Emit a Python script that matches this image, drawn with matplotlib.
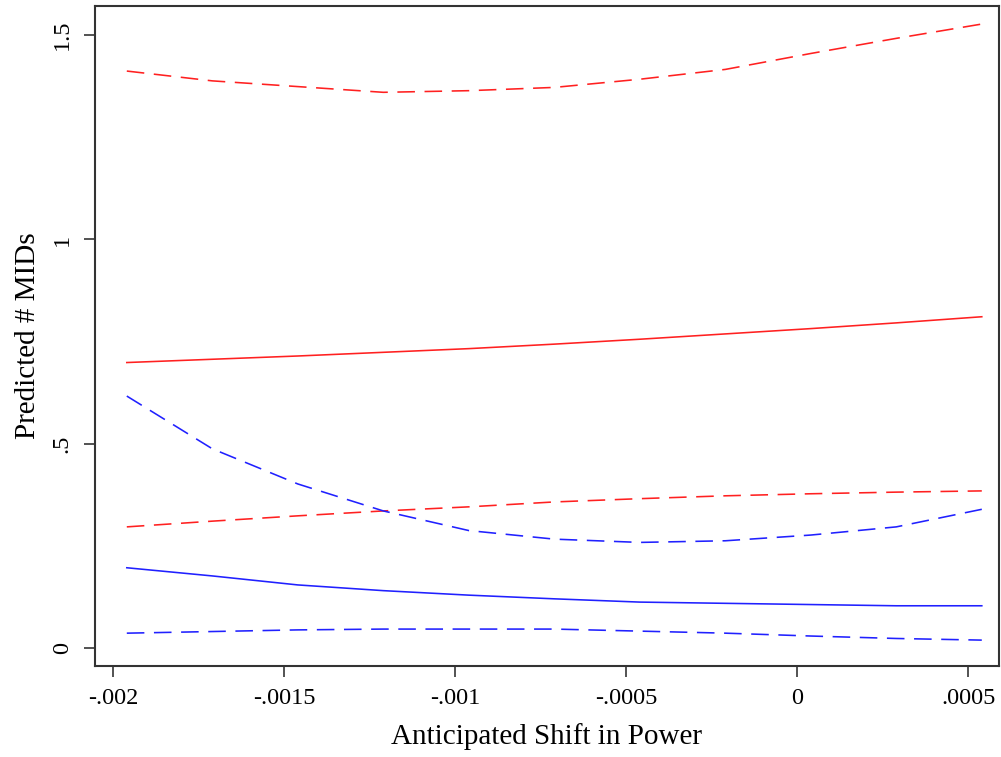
import matplotlib
matplotlib.use("Agg")
import matplotlib.pyplot as plt

# anticipated shift in power (x grid)
shift = [-0.00196, -0.00171, -0.00146, -0.00121, -0.00096, -0.00071,
         -0.00046, -0.00021, 0.00004, 0.00029, 0.00054]

# red series: prediction and confidence bounds
red_pred = [0.699, 0.707, 0.715, 0.724, 0.733, 0.744, 0.756, 0.769, 0.782, 0.796, 0.811]
red_hi = [1.412, 1.388, 1.374, 1.360, 1.364, 1.372, 1.392, 1.416, 1.455, 1.492, 1.527]
red_lo = [0.297, 0.311, 0.324, 0.336, 0.346, 0.358, 0.366, 0.373, 0.378, 0.382, 0.385]

# blue series: prediction and confidence bounds
blue_pred = [0.197, 0.177, 0.155, 0.141, 0.130, 0.121, 0.113, 0.110, 0.107, 0.104, 0.104]
blue_hi = [0.617, 0.488, 0.402, 0.336, 0.288, 0.267, 0.259, 0.263, 0.277, 0.297, 0.340]
blue_lo = [0.037, 0.041, 0.045, 0.047, 0.047, 0.047, 0.042, 0.037, 0.030, 0.024, 0.020]

xticks = [-0.002, -0.0015, -0.001, -0.0005, 0, 0.0005]
xtick_labels = ["-.002", "-.0015", "-.001", "-.0005", "0", ".0005"]
yticks = [0, 0.5, 1, 1.5]
ytick_labels = ["0", ".5", "1", "1.5"]

plt.rcParams['font.family'] = ['Liberation Serif', 'DejaVu Serif']

fig = plt.figure(figsize=(10.01, 7.57), dpi=100)
ax = fig.add_axes([0.0949, 0.1206, 0.903, 0.8714])

dash = (0, (11, 6))
ax.plot(shift, red_hi, color='#ff2020', lw=1.15, ls=dash)
ax.plot(shift, red_pred, color='#ff2020', lw=1.15)
ax.plot(shift, red_lo, color='#ff2020', lw=1.15, ls=dash)
ax.plot(shift, blue_hi, color='#2020ff', lw=1.15, ls=dash)
ax.plot(shift, blue_pred, color='#2020ff', lw=1.15)
ax.plot(shift, blue_lo, color='#2020ff', lw=1.15, ls=dash)

ax.set_xlim(-0.002053, 0.000590)
ax.set_ylim(-0.0426, 1.571)

ax.set_xticks(xticks)
ax.set_xticklabels(xtick_labels)
ax.set_yticks(yticks)
ax.set_yticklabels(ytick_labels, rotation=90, va='center')

ax.tick_params(direction='out', length=8, width=1.3, color='#444444',
               labelsize=17.5, pad=8)

for s in ax.spines.values():
    s.set_color('#333333')
    s.set_linewidth(1.5)

ax.set_xlabel('Anticipated Shift in Power', fontsize=21, labelpad=10)
ax.set_ylabel('Predicted # MIDs', fontsize=21, labelpad=8)

fig.savefig('out.png', dpi=100)
